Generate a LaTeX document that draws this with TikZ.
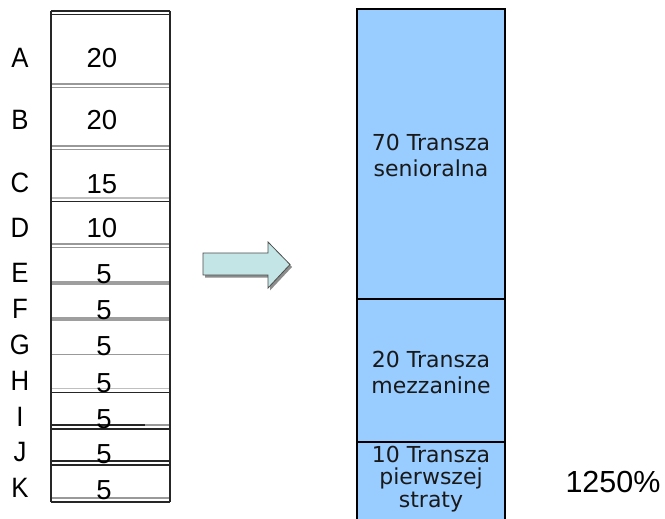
\documentclass[tikz,border=0pt]{standalone}
\usepackage{fontspec}
\setmainfont{Liberation Sans}
\newfontfamily\verd{DejaVu Sans}
\definecolor{tranche}{RGB}{153,204,255}
\definecolor{arrowfill}{RGB}{196,229,229}
\begin{document}
\begin{tikzpicture}[x=1pt,y=-1pt,
  lbl/.style={font=\fontsize{28}{28}\selectfont, anchor=center, inner sep=0pt, xscale=0.92},
  num/.style={font=\fontsize{27.5}{28}\selectfont, anchor=center, inner sep=0pt},
  tr/.style={font=\verd\fontsize{22}{26}\selectfont, align=center, inner sep=0pt, text=black!90},
  blk/.style={draw=black!85, line width=1.5pt},
  gr/.style={draw=black!40, line width=1.5pt},
  thk/.style={draw=black!38, line width=4pt},
]
\useasboundingbox (0,0) rectangle (665,519);
\fill[white] (0,0) rectangle (665,519);

% ---------- left column ----------
\draw[blk] (51,11) -- (170,11);
\draw[blk] (51,14.5) -- (170,14.5);
% dividers
\draw[gr] (51,84) -- (170,84);
\draw[gr] (51,87.5) -- (170,87.5);
\draw[gr] (51,146) -- (170,146);
\draw[gr] (51,149.5) -- (170,149.5);
\draw[gr, draw=black!25] (51,198) -- (170,198);
\draw[blk] (51,201.5) -- (170,201.5);
\draw[gr] (51,244) -- (170,244);
\draw[gr] (51,247.5) -- (170,247.5);
\draw[thk] (51,283) -- (170,283);
\draw[thk] (51,319) -- (170,319);
\draw[gr] (51,354.5) -- (170,354.5);
\draw[gr, draw=black!25] (51,388.5) -- (170,388.5);
\draw[blk] (51,392.5) -- (170,392.5);
\draw[blk] (51,425) -- (145,425);
\draw[gr] (145,425) -- (170,425);
\draw[blk] (51,429) -- (170,429);
\draw[blk] (51,461) -- (170,461);
\draw[blk] (51,465) -- (170,465);
\draw[gr] (51,498) -- (170,498);
\draw[blk] (51,502) -- (170,502);
\draw[blk] (51,11) -- (51,502);
\draw[blk] (170,11) -- (170,502);

% labels
\node[lbl] (lA) at (20,58) {A};
\node[lbl] (lB) at (20,120) {B};
\node[lbl] (lC) at (20,183) {C};
\node[lbl] (lD) at (20,228) {D};
\node[lbl] (lE) at (20,273) {E};
\node[lbl] (lF) at (20,309) {F};
\node[lbl] (lG) at (20,345) {G};
\node[lbl] (lH) at (20,381) {H};
\node[lbl] (lI) at (20,417) {I};
\node[lbl] (lJ) at (20,452) {J};
\node[lbl] (lK) at (20,488) {K};

\node[num] (nA) at (102,58) {20};
\node[num] (nB) at (102,120) {20};
\node[num] (nC) at (102,184) {15};
\node[num] (nD) at (102,228) {10};
\node[num] (nE) at (104,274) {5};
\node[num] (nF) at (104,310) {5};
\node[num] (nG) at (104,346) {5};
\node[num] (nH) at (104,383) {5};
\node[num] (nI) at (104,419) {5};
\node[num] (nJ) at (104,454) {5};
\node[num] (nK) at (104,490) {5};

% ---------- arrow ----------
\fill[black!45] (205,255.5) -- (270,255.5) -- (270,244.5) -- (292,267) -- (270,290.5) -- (270,277.5) -- (205,277.5) -- cycle;
\filldraw[fill=arrowfill, draw=black!70, line width=0.8pt]
  (203,253) -- (268,253) -- (268,242) -- (290,264.5) -- (268,288) -- (268,275) -- (203,275) -- cycle;

% ---------- right column ----------
\fill[tranche] (357,9) rectangle (505,530);
\draw[black, line width=2.2pt] (357,530) -- (357,9) -- (505,9) -- (505,530);
\draw[black, line width=2.2pt] (357,299) -- (505,299);
\draw[black, line width=2.2pt] (357,442) -- (505,442);

\node[tr] (sen) at (431,155) {70 Transza\\senioralna};
\node[tr] (mez) at (431,372) {20 Transza\\mezzanine};
\node[tr, font=\verd\fontsize{22}{22.5}\selectfont] (fst) at (431,479) {10 Transza\\pierwszej\\straty};

\node[font=\fontsize{30.5}{31}\selectfont, inner sep=0pt] (pct) at (613,482) {1250\%};
\end{tikzpicture}
\end{document}
